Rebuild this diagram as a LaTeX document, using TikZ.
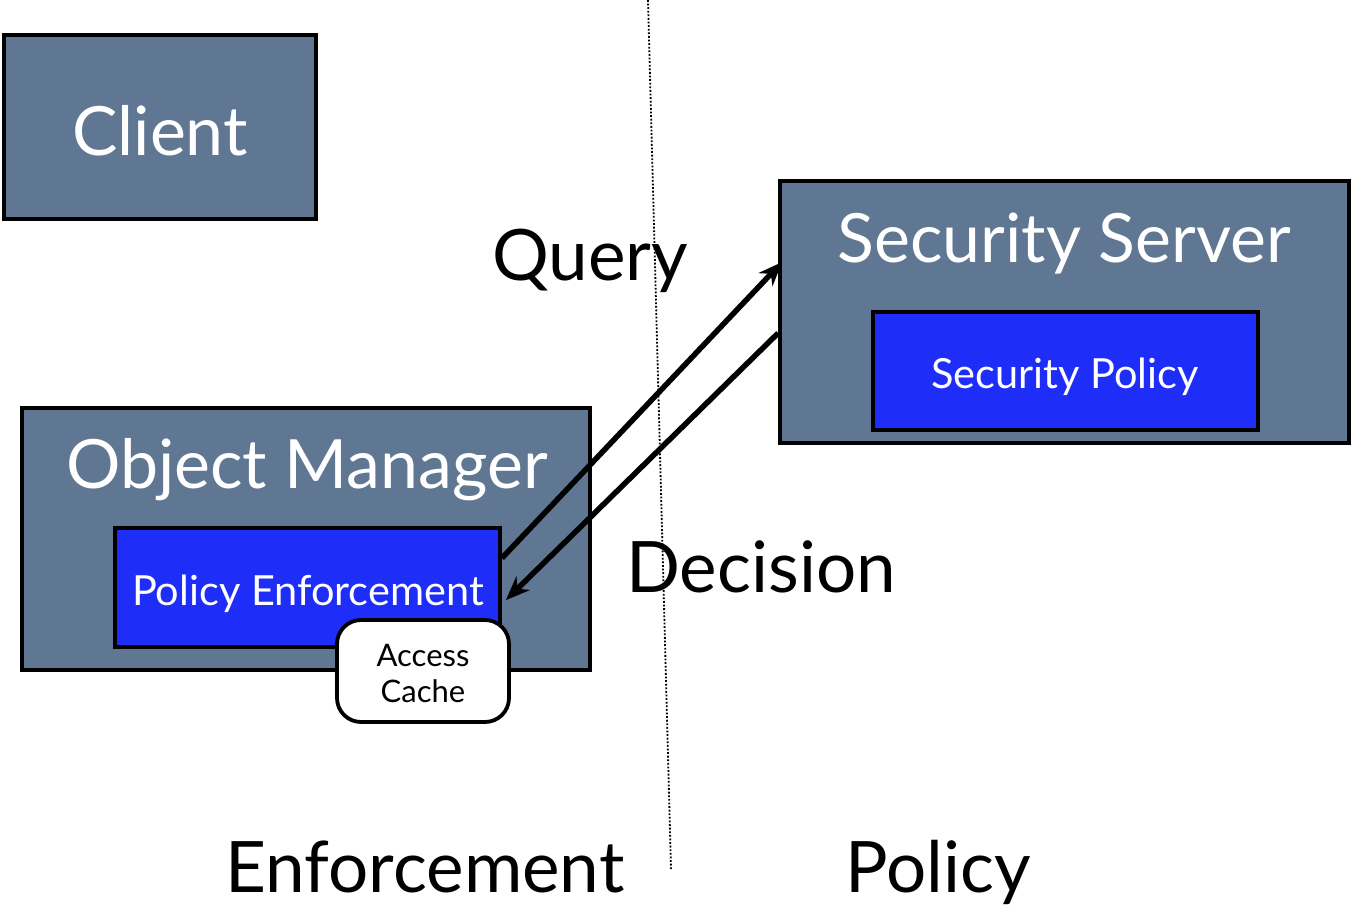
\documentclass[tikz,border=0pt]{standalone}
\usepackage{fontspec}
\setmainfont{Lato}
\usetikzlibrary{arrows.meta,calc}
\definecolor{slate}{HTML}{5F7792}
\definecolor{pblue}{HTML}{1E2EF8}
\tikzset{
  slatebox/.style={draw=black,line width=3.8pt,fill=slate,inner sep=0pt},
  bluebox/.style={draw=black,line width=3.8pt,fill=pblue,inner sep=0pt},
  cachebox/.style={draw=black,line width=3.8pt,fill=white,rounded corners=24pt,inner sep=0pt},
  bigwhite/.style={text=white,font=\fontsize{68}{78}\selectfont,anchor=base},
  midwhite/.style={text=white,font=\fontsize{41.5}{48}\selectfont,anchor=base},
  biglabel/.style={text=black,font=\fontsize{71}{80}\selectfont,anchor=base},
  arr/.style={line width=5.5pt,-{Stealth[length=24pt,width=19pt]}}
}
\begin{document}
\begin{tikzpicture}[x=1pt,y=-1pt]
\useasboundingbox (0,0) rectangle (1351,907);
% dotted divider
\coordinate (d1) at (648,0);
\coordinate (d2) at (671,869);
\draw[black,line width=1.8pt,dash pattern=on 1.8pt off 1.8pt] (d1) -- (d2);
% boxes
\node[slatebox,minimum width=312pt,minimum height=184pt] (client) at (160,127) {};
\node[slatebox,minimum width=569pt,minimum height=262pt] (ss) at (1064.5,312) {};
\node[bluebox,minimum width=385pt,minimum height=118pt] (sp) at (1065.5,371) {};
\node[slatebox,minimum width=568pt,minimum height=262pt] (om) at (306,539) {};
\node[bluebox,minimum width=385pt,minimum height=119pt] (pe) at (307.5,587.5) {};
\node[cachebox,minimum width=172pt,minimum height=102pt] (ac) at (423,671) {};
% texts
\node[bigwhite] (tclient) at (160,155) {Client};
\node[bigwhite] (tss) at (1064,262) {Security Server};
\node[bigwhite] (tom) at (307,488) {Object Manager};
\node[midwhite] (tpe) at (308,605) {Policy Enforcement};
\node[midwhite] (tsp) at (1065,388) {Security Policy};
\node[text=black,font=\fontsize{31}{37}\selectfont,align=center,anchor=base] (tac) at (423,702) {Access\\[-1pt]Cache};
\node[biglabel] (tq) at (590,280) {Query};
\node[biglabel] (td) at (761,592) {Decision};
\node[biglabel] (te) at (425,892) {Enforcement};
\node[biglabel] (tp) at (938,892) {Policy};
% arrows
\draw[arr] ($(pe.north east)+(0,32)$) -- ($(ss.north west)+(4,83)$);
\draw[arr] ($(ss.north west)+(0,154)$) -- ($(pe.north east)+(4,74)$);
\end{tikzpicture}
\end{document}
